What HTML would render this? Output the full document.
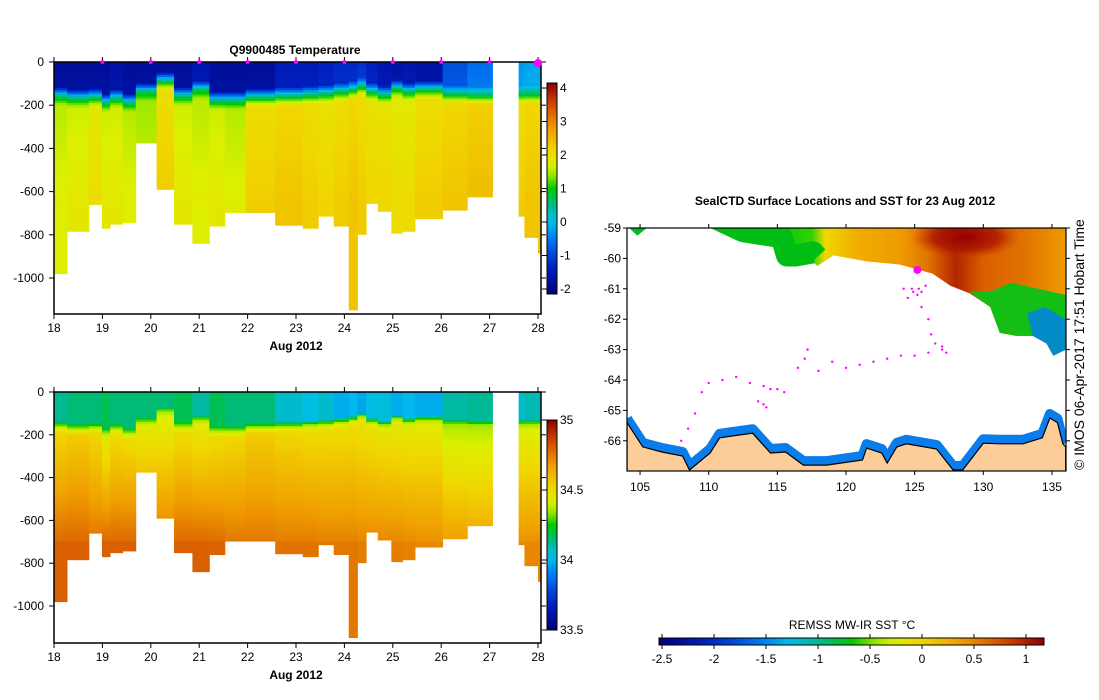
<!DOCTYPE html>
<html><head><meta charset="utf-8"><style>
body{margin:0;background:#fff}
svg{display:block;font-family:"Liberation Sans",sans-serif}
.t{font-size:12px;fill:#000}
.b{font-size:12px;font-weight:bold;fill:#000}
</style></head><body>
<svg id="s" width="1099" height="700" viewBox="0 0 1099 700" xmlns="http://www.w3.org/2000/svg">
<defs>
<linearGradient id="jetH" x1="0" x2="1" y1="0" y2="0"></linearGradient>
<linearGradient id="jetV" x1="0" x2="0" y1="1" y2="0"></linearGradient>
<linearGradient id="sstG" x1="0" x2="1" y1="0" y2="0"></linearGradient>
<radialGradient id="hot"><stop offset="0" stop-color="rgb(150,0,0)"/><stop offset="0.6" stop-color="rgb(170,20,0)" stop-opacity="0.8"/><stop offset="1" stop-color="rgb(200,60,0)" stop-opacity="0"/></radialGradient>
<clipPath id="mapClip"><rect x="627" y="228" width="439" height="243"/></clipPath>
</defs>
<g id="topPanel"></g>
<g id="botPanel"></g>
<g id="map"></g>
<text class="b" x="295" y="54" text-anchor="middle">Q9900485  Temperature</text>
<text class="b" x="845" y="205" text-anchor="middle">SealCTD Surface Locations and SST for 23 Aug 2012</text>
<text class="t" x="852" y="629" text-anchor="middle">REMSS MW-IR SST °C</text>
<text x="1084" y="470" transform="rotate(-90 1084 470)" style="font-size:14px">© IMOS 06-Apr-2017 17:51 Hobart Time</text>
</svg>
<script>
// ---- data ----
const colStart=[18.0,18.27,18.72,18.99,19.16,19.42,19.69,20.12,20.48,20.86,21.21,21.53,21.96,22.57,23.14,23.46,23.78,24.09,24.27,24.45,24.69,24.97,25.2,25.46,26.03,26.54,27.6,27.72,28.0];
const colEnd=[18.27,18.72,18.99,19.16,19.42,19.69,20.12,20.48,20.86,21.21,21.53,21.96,22.57,23.14,23.46,23.78,24.09,24.27,24.45,24.69,24.97,25.2,25.46,26.03,26.54,27.06,27.72,28.0,28.06];
const maxDepth=[980,784,660,770,751,743,375,590,751,840,760,697,697,756,770,714,760,1148,798,655,692,793,784,725,686,625,714,812,885];
const surfT=[-1.8,-1.8,-1.8,-1.8,-1.7,-1.8,-1.8,-1.8,-1.8,-1.6,-1.8,-1.8,-1.8,-1.5,-1.5,-1.4,-1.3,-1.3,-1.2,-1.4,-1.6,-1.7,-1.6,-1.7,-0.9,-0.6,-0.3,-0.2,-0.2];
const mld=[160,170,165,190,170,190,140,90,160,130,180,180,165,160,155,150,140,130,115,140,155,125,140,130,150,155,150,150,150];
const deepT=[1.5,1.6,1.8,1.6,1.6,1.5,1.4,2.0,1.6,1.5,1.6,1.5,2.0,2.1,2.0,1.9,2.0,2.1,2.0,1.9,1.9,1.8,1.8,2.0,2.1,2.2,2.0,2.1,2.1];
const surfS=[34.12,34.15,34.15,34.18,34.15,34.15,34.15,34.15,34.18,34.1,34.18,34.15,34.15,34.05,34.02,34.05,33.98,34.0,33.97,34.02,34.03,33.98,34.0,33.98,34.1,34.12,34.05,34.08,34.08];
const sal200=[34.52,34.55,34.52,34.45,34.5,34.5,34.45,34.42,34.5,34.45,34.5,34.52,34.55,34.52,34.5,34.5,34.5,34.5,34.48,34.48,34.47,34.45,34.45,34.45,34.38,34.38,34.42,34.42,34.42];
const sal700=[34.78,34.78,34.76,34.78,34.78,34.78,34.76,34.76,34.78,34.78,34.77,34.75,34.75,34.74,34.74,34.73,34.73,34.73,34.72,34.72,34.72,34.72,34.71,34.7,34.67,34.66,34.7,34.7,34.7];
const profileDays=[19,20,21,22,23,24,25,26,27];
const dayTicks=[18,19,20,21,22,23,24,25,26,27,28];
const depthTicks=[0,-200,-400,-600,-800,-1000];
const tTicks=[4,3,2,1,0,-1,-2];
const sTicks=[35,34.5,34,33.5];
const sstTicks=[-2.5,-2,-1.5,-1,-0.5,0,0.5,1];
const latTicks=[-59,-60,-61,-62,-63,-64,-65,-66];
const lonTicks=[105,110,115,120,125,130,135];
const iceEdgeLon=[110.6,112.5,115.3,115.7,116.3,117.6,117.9,119.1,121.5,123.9,126.3,127.6,129.0,130.5,131.2,132.4,133.6,134.6,135.1,136];
const iceEdgeLat=[-59,-59.4,-59.6,-60.2,-60.2,-60.1,-60.25,-59.9,-60.1,-60.2,-60.5,-60.9,-61.15,-61.6,-62.45,-62.55,-62.55,-62.8,-63.2,-63.0];
const sstLonStops=[111,115,117.5,118.5,121,124,126,128,130,133,136];
const sstLonVals=[-0.6,-0.7,-0.6,0,0.3,0.4,0.6,1.0,0.7,0.6,0.4];
const coastLon=[104.05,105.2,106.6,108.1,108.6,110.1,110.8,113.2,114.5,115.6,116.9,118.6,121.2,121.5,122.6,123,123.7,124.4,126.6,127.8,128.5,130,131.2,132.9,134.3,134.85,135.4,135.8,136];
const coastLat=[-65.4,-66.2,-66.37,-66.5,-66.96,-66.4,-65.9,-65.75,-66.4,-66.37,-66.8,-66.8,-66.63,-66.24,-66.4,-66.73,-66.2,-66.1,-66.27,-66.96,-66.96,-66.08,-66.1,-66.1,-65.9,-65.25,-65.4,-66.1,-66.2];
const trackLon=[108,108.5,109,109.5,110,111,112,113,114,114.5,115,115.5,114,113.6,114.2,116.5,117,117.2,118,119,120,121,122,123,124,125,126,127,127.3,127,126.5,126.2,126,125.5,124.5,124.2,124.8,125.5,125.8,125.2,125.3,124.9];
const trackLat=[-66,-65.6,-65.1,-64.4,-64.1,-64,-63.9,-64.1,-64.2,-64.3,-64.3,-64.4,-64.8,-64.7,-64.9,-63.6,-63.3,-63,-63.7,-63.4,-63.6,-63.5,-63.4,-63.3,-63.2,-63.2,-63.1,-63,-63.1,-62.9,-62.8,-62.5,-62.0,-61.6,-61.3,-61.0,-61.0,-61.1,-60.9,-61.2,-61.0,-61.1];

// ---- helpers ----
const NS='http://www.w3.org/2000/svg';
const S=document.getElementById('s');
function mk(tag,parent,attrs){const e=document.createElementNS(NS,tag);for(const k in attrs)e.setAttribute(k,attrs[k]);(parent||S).appendChild(e);return e;}
const stops=[[0,[0,0,120]],[0.12,[0,30,190]],[0.25,[0,110,240]],[0.34,[0,190,235]],[0.42,[0,185,140]],[0.5,[0,200,0]],[0.56,[150,230,0]],[0.61,[220,240,0]],[0.68,[240,215,0]],[0.78,[240,160,0]],[0.9,[210,70,0]],[1,[140,0,0]]];
function jet(f){f=Math.max(0,Math.min(1,f));for(let i=1;i<stops.length;i++){if(f<=stops[i][0]){const a=stops[i-1],b=stops[i],t=(f-a[0])/(b[0]-a[0]);return 'rgb('+a[1].map((v,j)=>Math.round(v+(b[1][j]-v)*t)).join(',')+')';}}return 'rgb(140,0,0)';}
['jetH','jetV'].forEach(id=>{const g=document.getElementById(id);for(let i=0;i<=30;i++)mk('stop',g,{offset:i/30,'stop-color':jet(i/30)});});

const X0=54,X1=538;
const xDay=d=>X0+(d-18)*(X1-X0)/10;

function panel(g,y0,yBot,kind,cbTop,cbBot,vmin,vmax,ticks){
  const yScale=kind==='T'?0.216:0.214;
  const yD=d=>y0+d*yScale;
  for(let c=0;c<colStart.length;c++){
    const x=xDay(colStart[c]),w=xDay(colEnd[c])-x;
    for(let d=0;d<maxDepth[c];d+=10){
      let v;
      const dm=d+5;
      const m=mld[c];
      if(kind==='T'){
        if(dm<m-45)v=surfT[c]+(dm/(m))*0.15;
        else if(dm<m)v=surfT[c]+(0.7-surfT[c])*(dm-(m-45))/45;
        else if(dm<m+40)v=0.7+(deepT[c]-0.7)*(dm-m)/40;
        else v=deepT[c]+Math.min(0.25,(dm-m)/2000);
      }else{
        if(dm<m-20)v=surfS[c];
        else if(dm<m)v=surfS[c]+(34.35-surfS[c])*(dm-(m-20))/20;
        else if(dm<m+30)v=34.35+(sal200[c]-34.35)*(dm-m)/30;
        else if(dm<700)v=sal200[c]+(sal700[c]-sal200[c])*(dm-m-30)/(700-m-30);
        else v=sal700[c]+0.02;
      }
      const h=Math.min(10,maxDepth[c]-d);
      const r=mk('rect',g,{x:x.toFixed(2),y:yD(d).toFixed(2),width:(w+0.4).toFixed(2),height:(h*yScale+0.4).toFixed(2),fill:jet((v-vmin)/(vmax-vmin))});
      
      
    }
  }
  const f=mk('rect',g,{x:X0,y:y0,width:X1+3-X0,height:yBot-y0,fill:'none',stroke:'#000','stroke-width':1.5});
  
  
  depthTicks.forEach(t=>{
    const y=yD(-t);
    mk('line',g,{x1:X0-5,x2:X0,y1:y,y2:y,stroke:'#000'});
    mk('line',g,{x1:X1+3,x2:X1+8,y1:y,y2:y,stroke:'#000'});
    const l=mk('text',g,{x:44,y:y+4,'text-anchor':'end',class:'t'});l.textContent=t;
    
    
  });
  dayTicks.forEach(d=>{
    const x=xDay(d);
    mk('line',g,{x1:x,x2:x,y1:yBot,y2:yBot+5,stroke:'#000'});
    mk('line',g,{x1:x,x2:x,y1:y0-5,y2:y0,stroke:'#000'});
    const l=mk('text',g,{x:x,y:yBot+18,'text-anchor':'middle',class:'t'});l.textContent=d;
    
    
  });
  const a=mk('text',g,{x:xDay(23),y:yBot+36,'text-anchor':'middle',class:'b'});a.textContent='Aug 2012';
  
  
  const cb=mk('rect',g,{x:547,y:cbTop,width:10,height:cbBot-cbTop,fill:'url(#jetV)',stroke:'#000'});
  
  
  ticks.forEach(t=>{
    const y=cbBot-(t-vmin)/(vmax-vmin)*(cbBot-cbTop);
    mk('line',g,{x1:542,x2:547,y1:y,y2:y,stroke:'#000'});
    const l=mk('text',g,{x:560,y:y+4,class:'t'});l.textContent=t;
    
    
  });
}
const topG=document.getElementById('topPanel'),botG=document.getElementById('botPanel');
panel(topG,62,314,'T',83,294,-2.15,4.15,tTicks);
panel(botG,392,643,'S',420,630,33.5,35,sTicks);
profileDays.forEach(d=>{
  const m=mk('circle',topG,{cx:xDay(d),cy:62,r:2,fill:'#f0f'});
  
  
});
const m28=mk('circle',topG,{cx:xDay(28),cy:63,r:4,fill:'#f0f'});



// ---- map ----
const G=document.getElementById('map');
const mx=lon=>627+(lon-104.05)*13.73, my=lat=>228+(-59-lat)*30.4;
const P=arr=>arr.map(p=>mx(p[0]).toFixed(1)+','+my(p[1]).toFixed(1)).join(' ');
const sg=document.getElementById('sstG');
sstLonStops.forEach((l,i)=>mk('stop',sg,{offset:((l-110.6)/25.4).toFixed(3),'stop-color':jet((sstLonVals[i]+2.55)/3.75)}));
const cg=mk('g',G,{'clip-path':'url(#mapClip)'});
const edgePts=iceEdgeLon.map((l,i)=>[l,iceEdgeLat[i]]);
const sst=mk('polygon',cg,{points:P(edgePts.concat([[136,-59]])),fill:'url(#sstG)'});


const hot=mk('ellipse',cg,{cx:mx(128.7),cy:my(-59.3),rx:55,ry:22,fill:'url(#hot)'});


const westBand=mk('polyline',cg,{points:P(edgePts.filter(p=>p[0]<=118.5)),fill:'none',stroke:'rgb(0,190,20)','stroke-width':22,'stroke-linejoin':'round',transform:'translate(0,-9)'});


const patch=mk('polygon',cg,{points:P([[129,-61.1],[130.5,-61.1],[132,-60.8],[136,-61.2],[136,-63],[135.1,-63.2],[134.6,-62.8],[133.6,-62.55],[132.4,-62.55],[131.2,-62.45],[130.5,-61.6]]),fill:'rgb(20,190,20)'});


const blue=mk('polygon',cg,{points:P([[133.2,-61.8],[134.5,-61.6],[136,-62],[136,-63],[135.1,-63.2],[134.6,-62.8],[133.6,-62.55]]),fill:'rgb(0,130,230)',opacity:0.85});


const gp=mk('polygon',cg,{points:P([[104.2,-59],[105.5,-59],[104.8,-59.25]]),fill:'rgb(0,190,30)'});


const coastPts=coastLon.map((l,i)=>[l,coastLat[i]]);
const band=mk('polyline',cg,{points:P(coastPts),fill:'none',stroke:'rgb(10,125,235)','stroke-width':10,'stroke-linejoin':'round',transform:'translate(0,-4)'});


const land=mk('polygon',cg,{points:P(coastPts.concat([[136,-67.2],[104.05,-67.2]])),fill:'#fccc99',stroke:'#000','stroke-width':1.2});


trackLon.forEach((l,i)=>{
  const c=mk('circle',cg,{cx:mx(l),cy:my(trackLat[i]),r:1.2,fill:'#f0f'});
  
  
});
const cur=mk('circle',cg,{cx:mx(125.2),cy:my(-60.38),r:4,fill:'#f0f'});


const fr=mk('rect',G,{x:627,y:228,width:439,height:243,fill:'none',stroke:'#000','stroke-width':1.2});


latTicks.forEach(t=>{
  const y=my(t);
  mk('line',G,{x1:623,x2:627,y1:y,y2:y,stroke:'#000'});
  mk('line',G,{x1:1066,x2:1070,y1:y,y2:y,stroke:'#000'});
  const l=mk('text',G,{x:621,y:y+4,'text-anchor':'end',class:'t'});l.textContent=t;
  
  
});
lonTicks.forEach(t=>{
  const x=mx(t);
  mk('line',G,{x1:x,x2:x,y1:471,y2:475,stroke:'#000'});
  mk('line',G,{x1:x,x2:x,y1:224,y2:228,stroke:'#000'});
  const l=mk('text',G,{x:x,y:491,'text-anchor':'middle',class:'t'});l.textContent=t;
  
  
});
const scb=mk('rect',G,{x:659,y:638,width:385,height:7,fill:'url(#jetH)',stroke:'#000'});


sstTicks.forEach(t=>{
  const x=662+(t+2.5)*104;
  mk('line',G,{x1:x,x2:x,y1:634,y2:638,stroke:'#000'});
  mk('line',G,{x1:x,x2:x,y1:645,y2:649,stroke:'#000'});
  const l=mk('text',G,{x:x,y:663,'text-anchor':'middle',class:'t'});l.textContent=t;
  
  
});
</script>
</body></html>
